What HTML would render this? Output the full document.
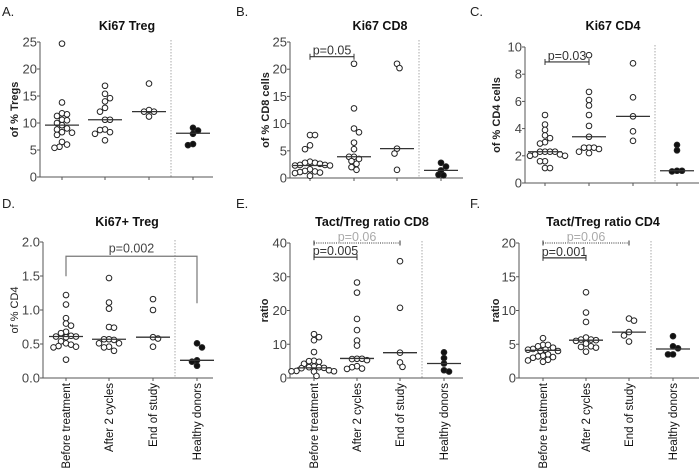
<!DOCTYPE html>
<html><head><meta charset="utf-8">
<style>
html,body{margin:0;padding:0;background:#fff;}
svg{display:block;font-family:"Liberation Sans",Arial,sans-serif;}
</style></head>
<body>
<svg id="fig" width="700" height="468" viewBox="0 0 700 468" xmlns="http://www.w3.org/2000/svg"></svg>
<script>
// ---- data ----
const categories = ["Before treatment","After 2 cycles","End of study","Healthy donors"];
const aBefore=[24.7,13.8,11.8,11.6,11.3,10.6,10.5,10.0,9.6,9.0,8.8,8.3,8.2,7.8,6.5,6.0,5.6,5.4];
const aAfter=[16.9,15.4,14.6,14.0,12.8,12.1,10.6,10.6,8.8,8.7,8.3,8.0,6.8];
const aEnd=[17.3,12.4,12.1,12.1,11.2];
const aHealthy=[9.1,8.6,8.0,6.1,5.9];
const aMedians=[9.6,10.6,12.1,8.1];
const bBefore=[7.9,7.9,6.0,5.3,3.0,2.8,2.8,2.6,2.4,2.4,2.3,2.3,1.6,1.3,1.2,1.1,1.0,0.9,0.4];
const bAfter=[21.0,12.8,9.1,8.4,6.5,5.3,3.9,3.9,3.5,3.1,2.6,2.0,1.5];
const bEnd=[21.0,20.2,5.4,4.5,1.5];
const bHealthy=[2.8,2.1,1.4,0.6,0.5];
const bMedians=[2.3,3.9,5.4,1.4];
const cBefore=[5.0,4.3,3.9,3.5,3.3,3.0,2.9,2.3,2.3,2.3,2.3,2.1,2.1,2.0,2.0,1.6,1.6,1.1,1.1];
const cAfter=[9.4,6.7,6.1,5.7,5.0,4.2,3.4,2.6,2.6,2.6,2.5,2.3,2.2];
const cEnd=[8.8,6.3,4.9,3.8,3.1];
const cHealthy=[2.8,2.4,0.9,0.85,0.9];
const cMedians=[2.3,3.4,4.9,0.9];
const dBefore=[1.22,1.08,0.88,0.80,0.77,0.68,0.66,0.62,0.61,0.61,0.60,0.54,0.51,0.49,0.47,0.46,0.45,0.27];
const dAfter=[1.47,1.11,1.02,0.75,0.74,0.57,0.57,0.56,0.51,0.51,0.46,0.45,0.40];
const dEnd=[1.16,1.0,0.6,0.58,0.46];
const dHealthy=[0.51,0.45,0.26,0.24,0.18];
const dMedians=[0.61,0.57,0.6,0.26];
const eBefore=[13,12.1,11.2,7.7,5.1,5.0,4.8,4.2,3.4,3.2,3.2,3.0,2.9,2.3,2.1,2.0,2.0,1.9,0.6];
const eAfter=[28.3,25.3,17.5,14.2,11.1,9.6,5.7,5.7,5.6,5.3,3.5,3.2,2.8,2.7];
const eEnd=[34.6,20.8,7.5,4.6,3.3];
const eHealthy=[7.6,5.9,4.3,2.3,1.9];
const eMedians=[3.0,5.8,7.5,4.3];
const fBefore=[5.9,4.9,4.9,4.7,4.5,4.3,4.2,4.2,4.0,4.0,3.5,3.3,3.2,3.1,3.0,2.7,2.6,2.4];
const fAfter=[12.7,9.7,8.3,6.0,5.7,5.7,5.6,5.5,5.1,4.7,4.6,4.5,3.9];
const fEnd=[8.8,8.5,6.8,6.3,5.4];
const fHealthy=[6.2,4.7,4.4,3.5,3.5];
const fMedians=[4.1,5.6,6.8,4.3];
const aTicks=[0,5,10,15,20,25], bTicks=[0,5,10,15,20,25], cTicks=[0,2,4,6,8,10];
const dTicks=["0.0","0.5","1.0","1.5","2.0"], eTicks=[0,10,20,30,40], fTicks=[0,5,10,15,20];

const panels=[
 {id:"a",letter:"A.",lx:2,ly:16,title:"Ki67 Treg",tx:127,ty:30,ylab:"of % Tregs",ylx:18,ax:40,top:42,bot:177,end:213,ymax:25,ticks:aTicks,cx:[62,105,149,193],div:171,groups:[aBefore,aAfter,aEnd,aHealthy],med:aMedians,labels:false,br:[]},
 {id:"b",letter:"B.",lx:236,ly:16,title:"Ki67 CD8",tx:380,ty:30,ylab:"of % CD8 cells",ylx:269,ax:290,top:42,bot:178,end:463,ymax:25,ticks:bTicks,cx:[310,354,397,441],div:419,groups:[bBefore,bAfter,bEnd,bHealthy],med:bMedians,labels:false,
  br:[{v:22.3,i:0,j:1,text:"p=0.05",style:"solid"}]},
 {id:"c",letter:"C.",lx:470,ly:16,title:"Ki67 CD4",tx:613,ty:30,ylab:"of % CD4 cells",ylx:500,ax:525,top:47,bot:183,end:699,ymax:10,ticks:cTicks,cx:[545,589,633,677],div:655,groups:[cBefore,cAfter,cEnd,cHealthy],med:cMedians,labels:false,
  br:[{v:8.9,i:0,j:1,text:"p=0.03",style:"solid"}]},
 {id:"d",letter:"D.",lx:2,ly:208,title:"Ki67+ Treg",tx:127,ty:226,ylab:"of % CD4",ylx:18,ax:43,top:242,bot:378,end:213,ymax:2,ticks:dTicks,cx:[66,109,153,197],div:175,groups:[dBefore,dAfter,dEnd,dHealthy],med:dMedians,labels:true,bold:false,
  br:[{v:1.79,i:0,j:3,text:"p=0.002",style:"big"}]},
 {id:"e",letter:"E.",lx:236,ly:208,title:"Tact/Treg ratio CD8",tx:372,ty:226,ylab:"ratio",ylx:268,ax:290,top:243,bot:378,end:463,ymax:40,ticks:eTicks,cx:[314,357,400,444],div:422,groups:[eBefore,eAfter,eEnd,eHealthy],med:eMedians,labels:true,
  br:[{v:40,i:0,j:2,text:"p=0.06",style:"dot"},{v:35.8,i:0,j:1,text:"p=0.005",style:"solid"}]},
 {id:"f",letter:"F.",lx:470,ly:208,title:"Tact/Treg ratio CD4",tx:603,ty:226,ylab:"ratio",ylx:499,ax:519,top:243,bot:378,end:699,ymax:20,ticks:fTicks,cx:[543,586,629,673],div:651,groups:[fBefore,fAfter,fEnd,fHealthy],med:fMedians,labels:true,
  br:[{v:20,i:0,j:2,text:"p=0.06",style:"dot"},{v:17.8,i:0,j:1,text:"p=0.001",style:"solid"}]}
];

const NS="http://www.w3.org/2000/svg";
const svg=document.getElementById("fig");
function mk(tag,attrs,parent){const e=document.createElementNS(NS,tag);for(const k in attrs)e.setAttribute(k,attrs[k]);(parent||svg).appendChild(e);return e;}

panels.forEach(p=>{
 const g=mk("g",{});
 
 
 const ys=v=>p.bot-(v/p.ymax)*(p.bot-p.top);
 let t=mk("text",{x:p.lx,y:p.ly,"font-size":"13",fill:"#222"},g);t.textContent=p.letter;
 
 
 t=mk("text",{x:p.tx,y:p.ty,"font-size":"12.5","font-weight":"bold","text-anchor":"middle",fill:"#111"},g);t.textContent=p.title;
 
 
 const yc=(p.top+p.bot)/2;
 t=mk("text",{x:p.ylx,y:yc,"font-size":"11","font-weight":p.bold===false?"normal":"bold","text-anchor":"middle",fill:"#222",transform:`rotate(-90 ${p.ylx} ${yc})`},g);t.textContent=p.ylab;
 
 
 let l=mk("line",{x1:p.ax,y1:p.top,x2:p.ax,y2:p.bot,stroke:"#555","stroke-width":"1"},g);
 
 
 l=mk("line",{x1:p.ax,y1:p.bot,x2:p.end,y2:p.bot,stroke:"#555","stroke-width":"1"},g);
 
 
 p.ticks.forEach(tk=>{
  const y=ys(parseFloat(tk));
  mk("line",{x1:p.ax-3,y1:y,x2:p.ax,y2:y,stroke:"#555"},g);
  const tt=mk("text",{x:p.ax-3,y:y+4.5,"font-size":"13","text-anchor":"end",fill:"#444"},g);tt.textContent=tk;
  
  
 });
 p.cx.forEach((x,i)=>{
  mk("line",{x1:x,y1:p.bot,x2:x,y2:p.bot+3,stroke:"#555"},g);
  if(p.labels){
   const tx=x+4,ty=p.bot+5;
   const tt=mk("text",{x:tx,y:ty,"font-size":"11.5","text-anchor":"end",fill:"#111",transform:`rotate(-90 ${tx} ${ty})`},g);tt.textContent=categories[i];
   
   
  }
 });
 l=mk("line",{x1:p.div,y1:p.top-2,x2:p.div,y2:p.bot,stroke:"#aaa","stroke-dasharray":"1.5,1.5"},g);
 
 
 p.groups.forEach((vals,gi)=>{
  const placed=[];const r=2.8,d=5.0;let side=1;
  [...vals].sort((a,b)=>b-a).forEach(v=>{
   const y=ys(v);let off=0;
   for(let k=0;k<80;k++){
    const o=(k%2?side:-side)*Math.ceil(k/2)*(d/2);
    if(placed.every(q=>Math.hypot(q[0]-o,q[1]-y)>=d)){off=o;break;}
   }
   if(off!==0) side=off>0?-1:1;
   placed.push([off,y]);
   const c=mk("circle",{cx:p.cx[gi]+off,cy:y,r:r,fill:gi===3?"#111":"#fff",stroke:"#222","stroke-width":"1"},g);
   
   
  });
  const my=ys(p.med[gi]);
  const m=mk("line",{x1:p.cx[gi]-17,y1:my,x2:p.cx[gi]+17,y2:my,stroke:"#333","stroke-width":"1.3"},g);
  
  
 });
 p.br.forEach(b=>{
  const x1=p.cx[b.i],x2=p.cx[b.j],y=ys(b.v);
  const bg=mk("g",{},g);
  
  
  if(b.style==="big"){
   mk("path",{d:`M${x1} ${y+20}V${y}H${x2}V${y+47}`,fill:"none",stroke:"#777","stroke-width":"1.2"},bg);
   const tt=mk("text",{x:(x1+x2)/2,y:y-4,"font-size":"12.5","text-anchor":"middle",fill:"#444"},bg);tt.textContent=b.text;
  } else if(b.style==="dot"){
   mk("line",{x1:x1,y1:y,x2:x2,y2:y,stroke:"#333","stroke-dasharray":"1,1.2"},bg);
   mk("line",{x1:x1,y1:y-2.5,x2:x1,y2:y+2.5,stroke:"#333"},bg);
   mk("line",{x1:x2,y1:y-2.5,x2:x2,y2:y+2.5,stroke:"#333"},bg);
   const tt=mk("text",{x:(x1+x2)/2,y:y-2,"font-size":"12.5","text-anchor":"middle",fill:"#aaa"},bg);tt.textContent=b.text;
  } else {
   mk("line",{x1:x1,y1:y,x2:x2,y2:y,stroke:"#333","stroke-width":"1.2"},bg);
   mk("line",{x1:x1,y1:y-3,x2:x1,y2:y+3,stroke:"#333"},bg);
   mk("line",{x1:x2,y1:y-3,x2:x2,y2:y+3,stroke:"#333"},bg);
   const tt=mk("text",{x:(x1+x2)/2,y:y-2,"font-size":"12.5","text-anchor":"middle",fill:"#333"},bg);tt.textContent=b.text;
  }
 });
});
</script>
</body></html>
